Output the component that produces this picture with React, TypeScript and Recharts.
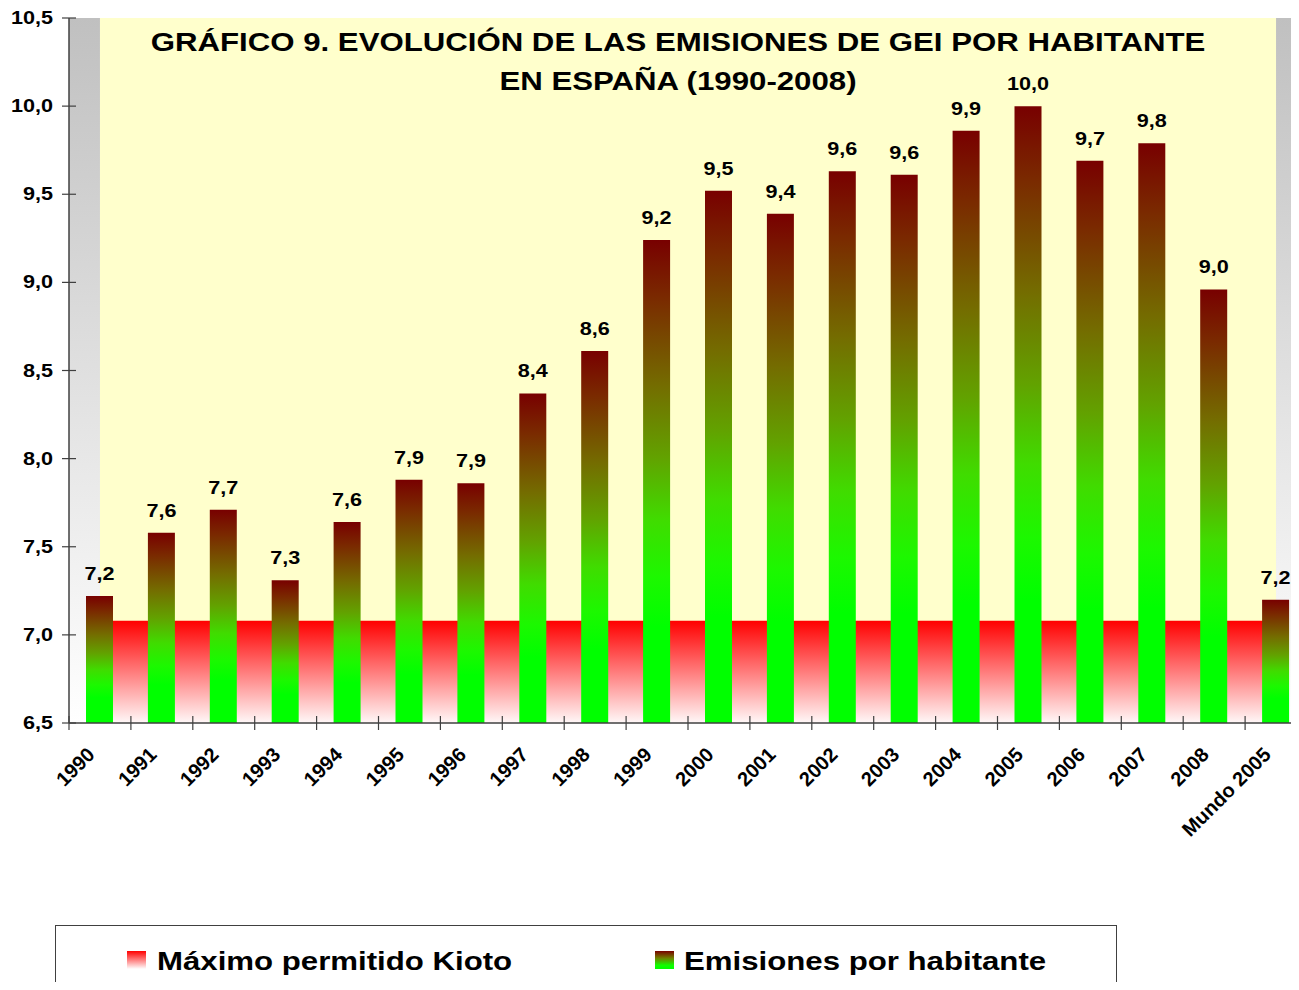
import {
  ComposedChart, Bar, Area, XAxis, YAxis, CartesianGrid, Legend, LabelList
} from 'recharts'

const categorias = ['1990', '1991', '1992', '1993', '1994', '1995', '1996', '1997', '1998', '1999',
  '2000', '2001', '2002', '2003', '2004', '2005', '2006', '2007', '2008', 'Mundo 2005']
const emisiones = [7.22, 7.58, 7.71, 7.31, 7.64, 7.88, 7.86, 8.37, 8.61, 9.24,
  9.52, 9.39, 9.63, 9.61, 9.86, 10.0, 9.69, 9.79, 8.96, 7.2]
const kioto = [7.08, 7.08, 7.08, 7.08, 7.08, 7.08, 7.08, 7.08, 7.08, 7.08,
  7.08, 7.08, 7.08, 7.08, 7.08, 7.08, 7.08, 7.08, 7.08, 7.08]
const fondo = [10.5, 10.5, 10.5, 10.5, 10.5, 10.5, 10.5, 10.5, 10.5, 10.5,
  10.5, 10.5, 10.5, 10.5, 10.5, 10.5, 10.5, 10.5, 10.5, 10.5]
const yTicks = [6.5, 7.0, 7.5, 8.0, 8.5, 9.0, 9.5, 10.0, 10.5]
const titulo = ['GRÁFICO 9. EVOLUCIÓN DE LAS EMISIONES DE GEI POR HABITANTE', 'EN ESPAÑA (1990-2008)']

const data = categorias.map((c, i) => ({ anio: c, emisiones: emisiones[i], kioto: kioto[i], fondo: fondo[i] }))

const FONT = '"Liberation Sans", Arial, sans-serif'
const AXIS = '#404040'
const fmt = (v: number) => v.toFixed(1).replace('.', ',')

function XTick({ x, y, payload }: any) {
  const off = payload.offset ?? 31
  return (
    <g>
      <line x1={x - off} x2={x - off} y1={y - 7} y2={y + 7} stroke={AXIS} strokeWidth={1.2} />
      <text transform={`translate(${x - 4},${y + 33}) rotate(-45)`} textAnchor="end"
        fontFamily={FONT} fontWeight="bold" fontSize={20} fill="#000">{payload.value}</text>
    </g>
  )
}

function YTick({ x, y, payload }: any) {
  return (
    <g>
      <line x1={x - 7} x2={x + 7} y1={y} y2={y} stroke={AXIS} strokeWidth={1.2} />
      <text transform={`translate(${x - 16},${y + 6}) scale(1.2,1)`} textAnchor="end"
        fontFamily={FONT} fontWeight="bold" fontSize={18} fill="#000">{fmt(payload.value)}</text>
    </g>
  )
}

function BarLabel({ x, y, width, value }: any) {
  return (
    <text transform={`translate(${x + width / 2},${y - 16}) scale(1.2,1)`} textAnchor="middle"
      fontFamily={FONT} fontWeight="bold" fontSize={18} fill="#000">{fmt(value)}</text>
  )
}

function LegendBox() {
  return (
    <div style={{ height: 65, boxSizing: 'border-box', borderTop: `1.5px solid ${AXIS}`,
      borderLeft: `1.5px solid ${AXIS}`, borderRight: `1.5px solid ${AXIS}`, background: '#fff' }}>
      <svg width={1059} height={63} style={{ display: 'block' }}>
        <defs>
          <linearGradient id="legRed" x1="0" y1="0" x2="0" y2="1">
            <stop offset="0" stopColor="#ff0000" />
            <stop offset="1" stopColor="#ffffff" />
          </linearGradient>
          <linearGradient id="legBar" x1="0" y1="0" x2="0" y2="1">
            <stop offset="0" stopColor="#7a0000" />
            <stop offset="0.4" stopColor="#708000" />
            <stop offset="0.8" stopColor="#10ff00" />
            <stop offset="1" stopColor="#00ff00" />
          </linearGradient>
        </defs>
        <rect x={71} y={25} width={19} height={18} fill="url(#legRed)" />
        <text transform="translate(101,44) scale(1.2,1)" fontFamily={FONT} fontWeight="bold"
          fontSize={26} fill="#000">Máximo permitido Kioto</text>
        <rect x={599} y={25} width={19} height={18} fill="url(#legBar)" />
        <text transform="translate(628,44) scale(1.2,1)" fontFamily={FONT} fontWeight="bold"
          fontSize={26} fill="#000">Emisiones por habitante</text>
      </svg>
    </div>
  )
}

export default function App() {
  return (
    <div style={{ margin: -8, width: 1299, height: 990, overflow: 'hidden', background: '#fff', position: 'relative' }}>
      <ComposedChart width={1310} height={990} data={data}
        margin={{ top: 18, right: 3, left: 0, bottom: 0 }} barSize={27}>
        <defs>
          <linearGradient id="bgGrey" x1="0" y1="0" x2="0" y2="1">
            <stop offset="0" stopColor="#c0c0c0" />
            <stop offset="1" stopColor="#ffffff" />
          </linearGradient>
          <linearGradient id="kiotoRed" x1="0" y1="0" x2="0" y2="1">
            <stop offset="0" stopColor="#ff0000" />
            <stop offset="1" stopColor="#fff8f8" />
          </linearGradient>
          <linearGradient id="barGrad" x1="0" y1="0" x2="0" y2="1">
            <stop offset="0" stopColor="#780000" />
            <stop offset="0.12" stopColor="#7a2a00" />
            <stop offset="0.3" stopColor="#746c00" />
            <stop offset="0.45" stopColor="#62a200" />
            <stop offset="0.58" stopColor="#40dc00" />
            <stop offset="0.7" stopColor="#1cf800" />
            <stop offset="0.8" stopColor="#00ff00" />
            <stop offset="1" stopColor="#00ff00" />
          </linearGradient>
        </defs>
        <CartesianGrid horizontal={false} vertical={false} fill="url(#bgGrey)" stroke="none" />
        <XAxis dataKey="anio" height={202} interval={0} tickSize={0} tickMargin={0} tickLine={false}
          axisLine={{ stroke: AXIS, strokeWidth: 1.5 }} tick={<XTick />} />
        <YAxis type="number" domain={[6.5, 10.5]} ticks={yTicks} width={69} tickSize={0} tickMargin={0}
          tickLine={false} axisLine={{ stroke: AXIS, strokeWidth: 1.5 }} tick={<YTick />} allowDataOverflow />
        <Area dataKey="fondo" type="linear" fill="#ffffcc" fillOpacity={1} stroke="none"
          isAnimationActive={false} legendType="none" />
        <Area dataKey="kioto" name="Máximo permitido Kioto" type="linear" fill="url(#kiotoRed)"
          fillOpacity={1} stroke="none" isAnimationActive={false} />
        <Bar dataKey="emisiones" name="Emisiones por habitante" fill="url(#barGrad)" isAnimationActive={false}>
          <LabelList dataKey="emisiones" content={<BarLabel />} />
        </Bar>
        <Legend verticalAlign="bottom" content={<LegendBox />}
          wrapperStyle={{ left: 55, width: 1062, bottom: 0 }} />
      </ComposedChart>
      <svg width={1299} height={110} style={{ position: 'absolute', left: 0, top: 0, pointerEvents: 'none' }}>
        {titulo.map((t, i) => (
          <text key={i} transform={`translate(678,${51 + i * 39}) scale(1.2,1)`} textAnchor="middle"
            fontFamily={FONT} fontWeight="bold" fontSize={26} fill="#000">{t}</text>
        ))}
      </svg>
    </div>
  )
}
